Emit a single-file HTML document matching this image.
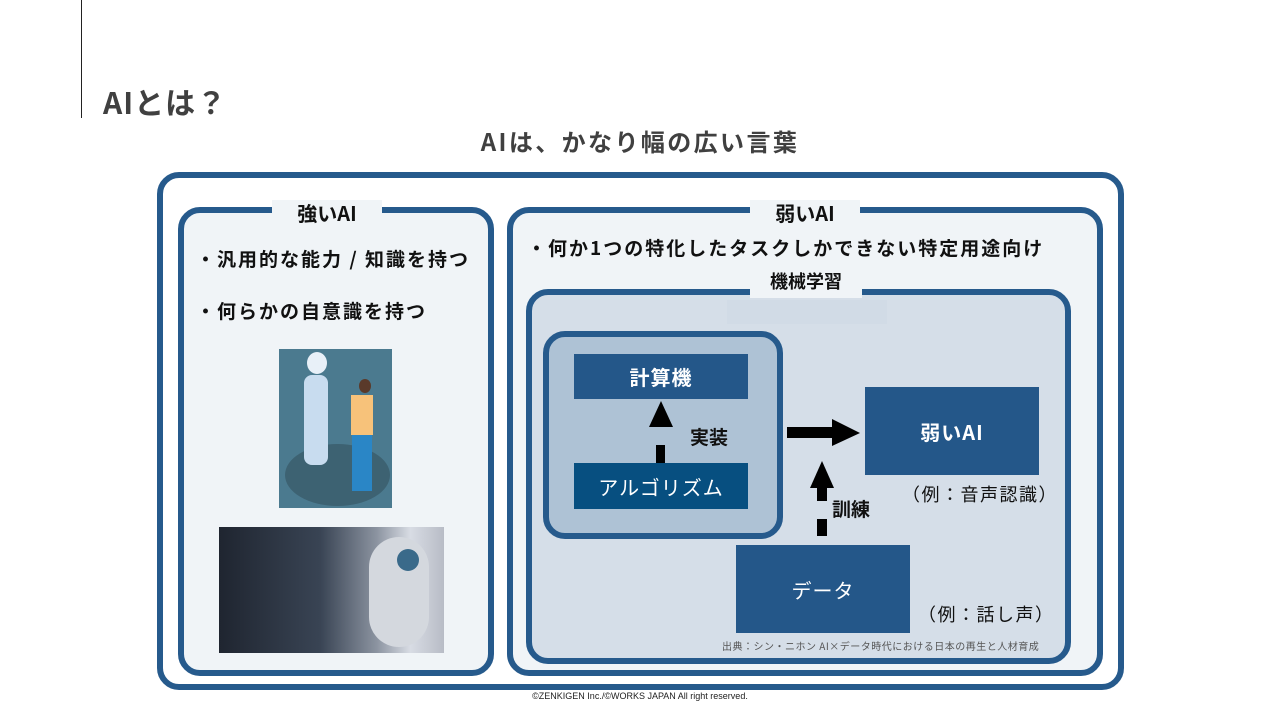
<!DOCTYPE html>
<html><head><meta charset="utf-8">
<style>
*{margin:0;padding:0;box-sizing:border-box}
body{width:1280px;height:720px;background:#fff;position:relative;overflow:hidden;font-family:"Noto Sans CJK JP","Liberation Sans",sans-serif;color:#111}
.a{position:absolute}
.box{position:absolute;border:6px solid #265a8c;border-radius:22px}
.lbl{position:absolute;background:#f0f4f7;font-weight:bold;font-size:20px;text-align:center;line-height:26px}
.bl{position:absolute;background:#245789;color:#fff;font-size:20px;display:flex;align-items:center;justify-content:center;letter-spacing:1px}
.t{position:absolute;font-weight:bold;font-size:19px;white-space:nowrap;line-height:26px}
</style></head><body>
<div class="a" style="left:81px;top:0;width:1px;height:118px;background:#222"></div>
<div class="a" style="left:103px;top:79px;font-size:30px;font-weight:bold;color:#404040;line-height:44px;letter-spacing:1px">AIとは？</div>
<div class="a" style="left:0;width:1280px;top:124px;text-align:center;font-size:24px;font-weight:bold;color:#404040;letter-spacing:2.4px;line-height:34px">AIは、かなり幅の広い言葉</div>

<div class="box" style="left:157px;top:172px;width:967px;height:518px;background:#fff"></div>
<div class="box" style="left:178px;top:207px;width:316px;height:469px;background:#f0f4f7"></div>
<div class="lbl" style="left:272px;top:200px;width:110px">強いAI</div>
<div class="t" style="left:196px;top:246px;letter-spacing:2px">・汎用的な能力 / 知識を持つ</div>
<div class="t" style="left:196px;top:298px;letter-spacing:2px">・何らかの自意識を持つ</div>
<div class="a" style="left:279px;top:349px;width:113px;height:159px;background:#4b7a8f;overflow:hidden">
 <div class="a" style="left:6px;top:95px;width:105px;height:62px;border-radius:50%;background:#3d6272"></div>
 <div class="a" style="left:28px;top:3px;width:20px;height:22px;border-radius:50%;background:#e8f0f8"></div>
 <div class="a" style="left:25px;top:26px;width:24px;height:90px;border-radius:8px;background:#c8dcef"></div>
 <div class="a" style="left:80px;top:30px;width:12px;height:14px;border-radius:50%;background:#5a3a2a"></div>
 <div class="a" style="left:72px;top:46px;width:22px;height:40px;background:#f7c27a"></div>
 <div class="a" style="left:73px;top:86px;width:20px;height:56px;background:#2a86c6"></div>
</div>
<div class="a" style="left:219px;top:527px;width:225px;height:126px;background:linear-gradient(90deg,#1f2530 0%,#394454 45%,#8b93a0 70%,#d8dce4 85%,#b8bcc6 100%)">
 <div class="a" style="left:150px;top:10px;width:60px;height:110px;border-radius:30px;background:#d4d8de"></div>
 <div class="a" style="left:178px;top:22px;width:22px;height:22px;border-radius:50%;background:#3a6a8a"></div>
</div>

<div class="box" style="left:507px;top:207px;width:596px;height:469px;background:#f0f4f7"></div>
<div class="lbl" style="left:750px;top:200px;width:110px">弱いAI</div>
<div class="t" style="left:527px;top:235px;letter-spacing:2px">・何か1つの特化したタスクしかできない特定用途向け</div>

<div class="box" style="left:526px;top:289px;width:545px;height:375px;background:#d5dee8"></div>
<div class="lbl" style="left:750px;top:268px;width:112px;height:30px;font-size:18px;line-height:26px">機械学習</div>
<div class="a" style="left:727px;top:300px;width:160px;height:24px;background:#d1dbe6"></div>

<div class="box" style="left:543px;top:331px;width:240px;height:208px;background:#aec2d5"></div>
<div class="bl" style="left:574px;top:354px;width:174px;height:45px;font-weight:bold">計算機</div>
<div class="bl" style="left:574px;top:463px;width:174px;height:46px;background:#074f80">アルゴリズム</div>
<div class="bl" style="left:865px;top:387px;width:174px;height:88px;font-weight:bold">弱いAI</div>
<div class="bl" style="left:736px;top:545px;width:174px;height:88px">データ</div>

<svg class="a" style="left:0;top:0" width="1280" height="720">
 <polygon points="661,401 649,427 673,427" fill="#000"/>
 <rect x="656" y="445" width="9" height="18" fill="#000"/>
 <rect x="787" y="427" width="45" height="11" fill="#000"/>
 <polygon points="832,419 860,433 832,446" fill="#000"/>
 <polygon points="822,461 810,488 834,488" fill="#000"/>
 <rect x="817" y="488" width="10" height="13" fill="#000"/>
 <rect x="817" y="519" width="10" height="17" fill="#000"/>
</svg>
<div class="t" style="left:690px;top:424px">実装</div>
<div class="t" style="left:832px;top:496px">訓練</div>
<div class="a" style="left:902px;top:481px;font-size:18px;white-space:nowrap;letter-spacing:1.5px;line-height:26px">（例：音声認識）</div>
<div class="a" style="left:918px;top:601px;font-size:18px;white-space:nowrap;letter-spacing:1.5px;line-height:26px">（例：話し声）</div>
<div class="a" style="left:722px;top:638px;font-size:10px;color:#555;white-space:nowrap;letter-spacing:0.5px">出典：シン・ニホン AI×データ時代における日本の再生と人材育成</div>
<div class="a" style="left:0;width:1280px;top:691px;text-align:center;font-size:9px;color:#222;font-family:'Liberation Sans',sans-serif">©ZENKIGEN Inc./©WORKS JAPAN All right reserved.</div>
</body></html>
